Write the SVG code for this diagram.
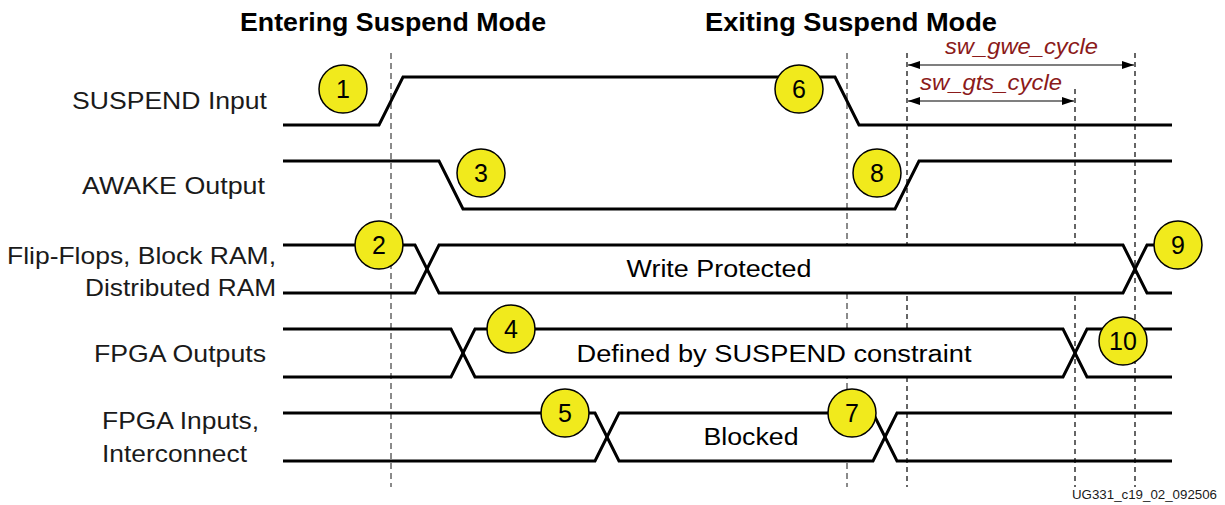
<svg xmlns="http://www.w3.org/2000/svg" width="1225" height="505" viewBox="0 0 1225 505">
<style>
.lbl{font-family:"Liberation Sans",Arial,sans-serif;font-size:24px;fill:#1a1a1a}
.ttl{font-family:"Liberation Sans",Arial,sans-serif;font-size:25px;font-weight:bold;fill:#000}
.bus{font-family:"Liberation Sans",Arial,sans-serif;font-size:23px;fill:#000;text-anchor:middle}
.num{font-family:"Liberation Sans",Arial,sans-serif;font-size:25px;fill:#000;text-anchor:middle}
.red{font-family:"Liberation Sans",Arial,sans-serif;font-size:22px;font-style:italic;fill:#8b1a1a}
.wm{font-family:"Liberation Sans",Arial,sans-serif;font-size:13px;fill:#1a1a1a}
.wave{fill:none;stroke:#000;stroke-width:3;stroke-linejoin:miter}
.fillw{fill:#fff;stroke:none}
.gdash{stroke:#8a8a8a;stroke-width:2;stroke-dasharray:6 4;fill:none}
.kdash{stroke:#000;stroke-width:1.2;stroke-dasharray:5 4;fill:none}
.dim{stroke:#000;stroke-width:1.2;fill:none}
.mark circle{fill:#f1ea1c;stroke:#000;stroke-width:1.5}
</style>
<defs>
<marker id="ah" viewBox="0 0 12 8" refX="12" refY="4" markerWidth="12" markerHeight="8" markerUnits="userSpaceOnUse" orient="auto-start-reverse">
<path d="M0,0 L12,4 L0,8 Z" fill="#000"/>
</marker>
</defs>
<rect width="1225" height="505" fill="#fff"/>

<g id="titles">
<text class="ttl" x="240" y="31" textLength="306" lengthAdjust="spacingAndGlyphs">Entering Suspend Mode</text>
<text class="ttl" x="705" y="31" textLength="292" lengthAdjust="spacingAndGlyphs">Exiting Suspend Mode</text>
</g>

<g id="connectors">
<line class="gdash" x1="391" y1="53" x2="391" y2="487"/>
<line class="gdash" x1="847" y1="53" x2="847" y2="487"/>
<line class="kdash" x1="907" y1="53" x2="907" y2="487"/>
<line class="kdash" x1="1075" y1="89" x2="1075" y2="487"/>
<line class="kdash" x1="1135" y1="53" x2="1135" y2="487"/>
<line class="dim" x1="908" y1="65" x2="1134" y2="65" marker-start="url(#ah)" marker-end="url(#ah)"/>
<line class="dim" x1="908" y1="101" x2="1074" y2="101" marker-start="url(#ah)" marker-end="url(#ah)"/>
<text class="red" x="945" y="54" textLength="153" lengthAdjust="spacingAndGlyphs">sw_gwe_cycle</text>
<text class="red" x="920" y="90" textLength="142" lengthAdjust="spacingAndGlyphs">sw_gts_cycle</text>
</g>

<g id="sig-suspend">
<text class="lbl" x="72" y="109" textLength="195" lengthAdjust="spacingAndGlyphs">SUSPEND Input</text>
<path class="wave" d="M283,125 H379 L403,77 H835 L859,125 H1172"/>
</g>

<g id="sig-awake">
<text class="lbl" x="82" y="194" textLength="183" lengthAdjust="spacingAndGlyphs">AWAKE Output</text>
<path class="wave" d="M283,161 H439 L463,209 H895 L919,161 H1172"/>
</g>

<g id="sig-ff">
<text class="lbl" x="7" y="264" textLength="269" lengthAdjust="spacingAndGlyphs">Flip-Flops, Block RAM,</text>
<text class="lbl" x="85" y="296" textLength="191" lengthAdjust="spacingAndGlyphs">Distributed RAM</text>
<polygon class="fillw" points="427,269 439,245 1123,245 1135,269 1123,293 439,293"/>
<path class="wave" d="M283,245 H415 L439,293 H1123 L1147,245 H1172"/>
<path class="wave" d="M283,293 H415 L439,245 H1123 L1147,293 H1172"/>
<text class="bus" x="719" y="277" textLength="185" lengthAdjust="spacingAndGlyphs">Write Protected</text>
</g>

<g id="sig-outputs">
<text class="lbl" x="94" y="362" textLength="172" lengthAdjust="spacingAndGlyphs">FPGA Outputs</text>
<polygon class="fillw" points="463,353 475,329 1063,329 1075,353 1063,377 475,377"/>
<path class="wave" d="M283,329 H451 L475,377 H1063 L1087,329 H1172"/>
<path class="wave" d="M283,377 H451 L475,329 H1063 L1087,377 H1172"/>
<text class="bus" x="774" y="362" textLength="395" lengthAdjust="spacingAndGlyphs">Defined by SUSPEND constraint</text>
</g>

<g id="sig-inputs">
<text class="lbl" x="102" y="429" textLength="157" lengthAdjust="spacingAndGlyphs">FPGA Inputs,</text>
<text class="lbl" x="102" y="462" textLength="145" lengthAdjust="spacingAndGlyphs">Interconnect</text>
<polygon class="fillw" points="607,437 619,413 873,413 885,437 873,461 619,461"/>
<path class="wave" d="M283,413 H595 L619,461 H873 L897,413 H1172"/>
<path class="wave" d="M283,461 H595 L619,413 H873 L897,461 H1172"/>
<text class="bus" x="751" y="445" textLength="95" lengthAdjust="spacingAndGlyphs">Blocked</text>
</g>

<g id="m1" class="mark"><circle cx="343" cy="89" r="24"/><text class="num" x="343" y="98">1</text></g>
<g id="m2" class="mark"><circle cx="379" cy="245" r="24"/><text class="num" x="379" y="254">2</text></g>
<g id="m3" class="mark"><circle cx="481" cy="173" r="24"/><text class="num" x="481" y="182">3</text></g>
<g id="m4" class="mark"><circle cx="511" cy="329" r="24"/><text class="num" x="511" y="338">4</text></g>
<g id="m5" class="mark"><circle cx="565" cy="413" r="24"/><text class="num" x="565" y="422">5</text></g>
<g id="m6" class="mark"><circle cx="799" cy="89" r="24"/><text class="num" x="799" y="98">6</text></g>
<g id="m7" class="mark"><circle cx="852" cy="413" r="24"/><text class="num" x="852" y="422">7</text></g>
<g id="m8" class="mark"><circle cx="877" cy="173" r="24"/><text class="num" x="877" y="182">8</text></g>
<g id="m9" class="mark"><circle cx="1178" cy="245" r="24"/><text class="num" x="1178" y="254">9</text></g>
<g id="m10" class="mark"><circle cx="1123" cy="341" r="24"/><text class="num" x="1123" y="350">10</text></g>

<text class="wm" x="1072" y="499" textLength="145" lengthAdjust="spacingAndGlyphs">UG331_c19_02_092506</text>
</svg>
